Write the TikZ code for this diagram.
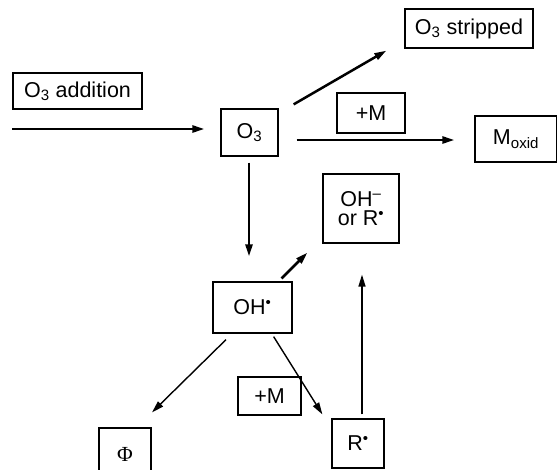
\documentclass[tikz,border=0pt]{standalone}
\usepackage{fontspec}
\setmainfont{Liberation Sans}
\newfontfamily\greekserif{Liberation Serif}
\usetikzlibrary{arrows.meta, positioning, calc}

\begin{document}
\begin{tikzpicture}[
  x=1pt, y=-1pt,
  box/.style={rectangle, draw, line width=1.25pt, inner sep=0pt,
              align=center, font=\fontsize{21.5}{19.5}\selectfont},
  arrow/.style={-{Triangle[length=12pt, width=7pt]}, line width=2.5pt},
  thinarrow/.style={-{Triangle[length=12pt, width=7pt]}, line width=1.4pt}
]
\useasboundingbox (0,0) rectangle (557,469);
\clip (0,0) rectangle (557,469);

% === Species and additions ===
\node[box, minimum width=129pt, minimum height=36pt] (addition) at (77.5,91)  {O\textsubscript{3} addition};
\node[box, minimum width=57pt,  minimum height=47pt] (o3)       at (249.5,132.5) {O\textsubscript{3}};
\node[box, minimum width=128pt, minimum height=39pt] (stripped) at (469,28.5) {O\textsubscript{3} stripped};
\node[box, minimum width=68pt,  minimum height=40pt] (plusMa)   at (371,113)  {+M};
\node[box, minimum width=82pt,  minimum height=46pt] (moxid)    at (516,139)  {M\textsubscript{oxid}};
\node[box, minimum width=76pt,  minimum height=69pt] (ohr)      at (361,208.5) {OH\textsuperscript{–}\\or R\textsuperscript{•}};
\node[box, minimum width=79pt,  minimum height=51pt] (ohrad)    at (252.5,307.5) {OH\textsuperscript{•}};
\node[box, minimum width=63pt,  minimum height=38pt] (plusMb)   at (269.5,396) {+M};
\node[box, minimum width=52pt,  minimum height=52pt] (phi)      at (125,454)  {\greekserif Φ};
\node[box, minimum width=52pt,  minimum height=49pt] (rrad)     at (358,443.5) {R\textsuperscript{•}};

% === Ozone pathways ===
\coordinate (feed) at (12,129);
\draw[arrow, shorten >=16pt] (feed) -- (feed -| o3.west);
\draw[arrow] ([shift={(15,-4)}]o3.north east) -- ([shift={(-18,2)}]stripped.south west);
\draw[arrow] ([shift={(18,7.5)}]o3.east) -- ([shift={(-20,1)}]moxid.west);
\draw[arrow, shorten <=6pt, shorten >=25pt] ([xshift=-0.5]o3.south) -- ([xshift=-0.5]o3.south |- ohrad.north);

% === Radical pathways ===
\draw[arrow] ([shift={(-11,-3)}]ohrad.north east) -- ([shift={(-15,9)}]ohr.south west);
\draw[thinarrow, shorten <=4pt, shorten >=31pt] ([xshift=4]rrad.north) -- ([xshift=4]rrad.north |- ohr.south);
\draw[thinarrow] ([shift={(-26.5,6)}]ohrad.south) -- ([shift={(27,-15)}]phi.north);
\draw[thinarrow] ([shift={(-19,3)}]ohrad.south east) -- ([shift={(-9,-4)}]rrad.north west);

\end{tikzpicture}
\end{document}
